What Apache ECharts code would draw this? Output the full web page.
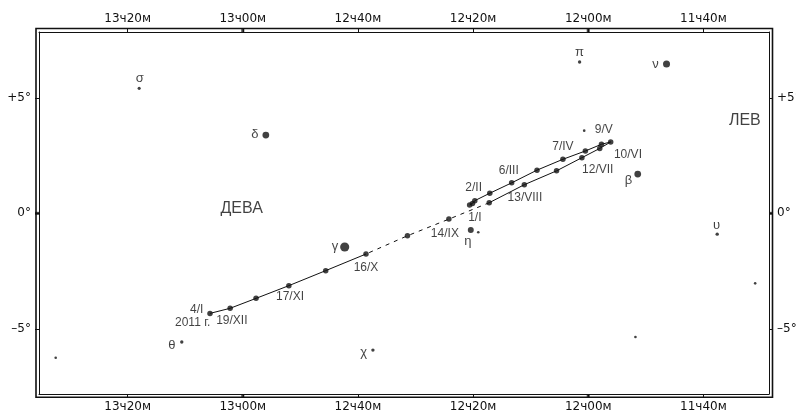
<!DOCTYPE html>
<html>
<head>
<meta charset="utf-8">
<script src="https://cdn.jsdelivr.net/npm/echarts@6/dist/echarts.min.js"></script>
<style>
  html, body { margin: 0; padding: 0; background: #fff; }
  #chart { width: 796px; height: 414px; }
</style>
</head>
<body>
<div id="chart"></div>
<script>
// Right ascension is kept in minutes of time (12h00m = 720), declination in degrees.
const raTicks = [800, 780, 760, 740, 720, 700];
const raTickLabels = ['13ч20м', '13ч00м', '12ч40м', '12ч20м', '12ч00м', '11ч40м'];
const raHourTicks = [780, 720];
const decTicks = [5, 0, -5];
const decTickLabels = ['+5°', '0°', '–5°'];
const decZeroTick = [0];

// Track of the planet, 2010 – January 2011
const pathRA  = [740.6, 740.1, 739.7, 737.1, 733.3, 728.9, 724.4, 720.5, 717.7, 716.1,
                 718.0, 721.1, 725.5, 731.1, 737.2, 744.2, 751.4, 758.6, 765.6, 772.0,
                 777.7, 782.2, 785.7];
const pathDec = [0.36, 0.43, 0.55, 0.87, 1.32, 1.87, 2.34, 2.70, 2.99, 3.09,
                 2.81, 2.41, 1.84, 1.24, 0.46, -0.25, -0.97, -1.76, -2.48, -3.13,
                 -3.68, -4.11, -4.33];
// part of the track close to the Sun, drawn dashed
const dashedFrom = 14;
const dashedTo = 17;

const dateLabels = ['1/I', '2/II', '6/III', '7/IV', '9/V', '10/VI', '12/VII', '13/VIII',
                    '14/IX', '16/X', '17/XI', '19/XII', '4/I', '2011 г.'];
const dateRA  = [739.7, 739.9, 733.8, 724.4, 717.3, 713.1, 718.35, 731.0,
                 744.9, 758.6, 771.8, 781.9, 788.0, 788.7];
const dateDec = [-0.20, 1.10, 1.83, 2.87, 3.61, 2.52, 1.87, 0.66,
                 -0.90, -2.37, -3.62, -4.66, -4.19, -4.75];

// Stars: position, magnitude, Greek letter and where the letter sits
const starNames = ['σ', 'δ', 'π', 'ν', 'β', 'υ', 'θ', 'χ', 'γ', 'η', '', '', '', '', ''];
const starRA  = [798.0, 776.0, 721.5, 706.4, 711.4, 697.6, 790.6, 757.4, 762.3, 740.4,
                 739.1, 691.0, 812.5, 711.8, 720.7];
const starDec = [5.41, 3.39, 6.55, 6.46, 1.70, -0.90, -5.57, -5.92, -1.46, -0.72,
                 -0.82, -3.03, -6.25, -5.35, 3.58];
const starMag = [5.0, 3.6, 4.9, 3.5, 3.6, 4.9, 4.9, 4.9, 2.7, 3.9,
                 5.2, 5.2, 5.2, 5.2, 5.2];
const starLabelRA  = [797.9, 777.9, 721.5, 708.3, 713.0, 697.7, 792.3, 759.0, 764.0, 740.9];
const starLabelDec = [5.85, 3.43, 6.98, 6.46, 1.44, -0.51, -5.70, -6.0, -1.42, -1.20];

const constellationNames = ['ДЕВА', 'ЛЕВ'];
const constellationRA  = [780.2, 692.8];
const constellationDec = [0.19, 4.0];

const INK = '#111';
const TICK_FONT = 'DejaVu Sans';
const TEXT_FONT = 'Liberation Sans';

const RA_MIN = 688.6, RA_MAX = 815.4;
const DEC_MIN = -7.82, DEC_MAX = 7.85;

function raAxis(position) {
  return {
    type: 'value', position: position, inverse: true,
    min: RA_MIN, max: RA_MAX,
    axisLine: { show: true, onZero: false, lineStyle: { color: INK, width: 1 } },
    axisTick: { show: true, inside: false, length: 4, customValues: raTicks,
                lineStyle: { color: INK, width: 1 } },
    axisLabel: {
      show: true, customValues: raTicks, margin: 7,
      formatter: v => raTickLabels[raTicks.indexOf(v)],
      color: INK, fontFamily: TICK_FONT, fontSize: 12
    },
    splitLine: { show: false }
  };
}

function decAxis(position) {
  return {
    type: 'value', position: position,
    min: DEC_MIN, max: DEC_MAX,
    axisLine: { show: true, onZero: false, lineStyle: { color: INK, width: 1 } },
    axisTick: { show: true, inside: false, length: 4, customValues: decTicks,
                lineStyle: { color: INK, width: 1 } },
    axisLabel: {
      show: true, customValues: decTicks, margin: 8,
      formatter: v => decTickLabels[decTicks.indexOf(v)],
      color: INK, fontFamily: TICK_FONT, fontSize: 12
    },
    splitLine: { show: false }
  };
}

function pairs(from, to) {
  const out = [];
  for (let i = from; i <= to; i++) out.push([pathRA[i], pathDec[i]]);
  return out;
}

function textSeries(names, ra, dec, fontSize, fontFamily) {
  return {
    type: 'scatter', symbolSize: 0, silent: true, z: 5,
    data: names.map((n, i) => ({ name: n, value: [ra[i], dec[i]] })),
    label: { show: true, position: 'inside', formatter: p => p.name,
             color: INK, fontSize: fontSize, fontFamily: fontFamily }
  };
}

// Heavier tick squares at whole hours and at the equator, set in the frame gap
const heavyTicks = [];
raHourTicks.forEach(v => {
  heavyTicks.push({ value: [v, DEC_MAX], symbolOffset: [0, -2], symbolSize: [3, 4] });
  heavyTicks.push({ value: [v, DEC_MIN], symbolOffset: [0, 2], symbolSize: [3, 4] });
});
decZeroTick.forEach(v => {
  heavyTicks.push({ value: [RA_MAX, v], symbolOffset: [-2, 0], symbolSize: [4, 3] });
  heavyTicks.push({ value: [RA_MIN, v], symbolOffset: [2, 0], symbolSize: [4, 3] });
});

const chart = echarts.init(document.getElementById('chart'), null, { renderer: 'canvas' });
chart.setOption({
  animation: false,
  backgroundColor: '#fff',
  grid: { left: 39, right: 27, top: 32, bottom: 20, containLabel: false, outerBoundsMode: 'none' },
  xAxis: [raAxis('bottom'), raAxis('top')],
  yAxis: [decAxis('left'), decAxis('right')],
  graphic: [{
    type: 'rect', silent: true,
    shape: { x: 36, y: 28.5, width: 736.5, height: 368.7 },
    style: { fill: 'none', stroke: INK, lineWidth: 1.6 }
  }],
  series: [
    { type: 'line', showSymbol: false, silent: true, data: pairs(0, dashedFrom),
      lineStyle: { color: INK, width: 1 } },
    { type: 'line', showSymbol: false, silent: true, data: pairs(dashedFrom, dashedTo),
      lineStyle: { color: INK, width: 1, type: [4, 5] } },
    { type: 'line', showSymbol: false, silent: true, data: pairs(dashedTo, pathRA.length - 1),
      lineStyle: { color: INK, width: 1 } },
    { type: 'scatter', silent: true, symbolSize: 5.5, z: 4,
      data: pairs(0, pathRA.length - 1), itemStyle: { color: INK } },
    { type: 'scatter', silent: true, z: 4,
      data: starRA.map((r, i) => [r, starDec[i], starMag[i]]),
      symbolSize: v => Math.max(2.4, 2.6 * (6.2 - v[2])),
      itemStyle: { color: INK } },
    { type: 'scatter', silent: true, clip: false, symbol: 'rect', z: 6,
      data: heavyTicks, itemStyle: { color: INK } },
    textSeries(starNames.slice(0, starLabelRA.length), starLabelRA, starLabelDec, 13, TEXT_FONT),
    textSeries(dateLabels, dateRA, dateDec, 12, TEXT_FONT),
    textSeries(constellationNames, constellationRA, constellationDec, 16, TEXT_FONT)
  ]
});
</script>
</body>
</html>
